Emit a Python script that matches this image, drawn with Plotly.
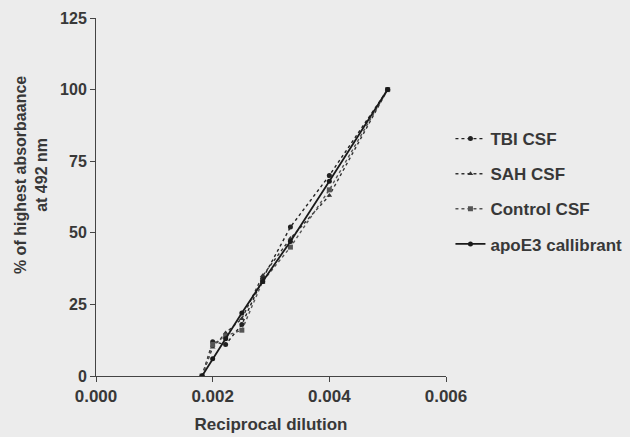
import plotly.graph_objects as go

# Reciprocal dilution (1/200 ... 1/550)
dilution = [0.001818, 0.002, 0.002222, 0.0025, 0.002857, 0.003333, 0.004, 0.005]

tbi_csf = [0, 12, 11, 18, 34, 52, 70, 100]
sah_csf = [0, 10, 15, 20, 35, 48, 63, 100]
control_csf = [0, 11, 14, 16, 33, 45, 65, 100]
apoe3_callibrant = [0, 6, 13, 22, 33, 47, 68, 100]

series = [
    ("TBI CSF", tbi_csf, "dot", "circle", "#222222", 1.4),
    ("SAH CSF", sah_csf, "dot", "triangle-up", "#333333", 1.4),
    ("Control CSF", control_csf, "dot", "square", "#555555", 1.4),
    ("apoE3 callibrant", apoe3_callibrant, "solid", "circle", "#1a1a1a", 1.8),
]

fig = go.Figure()
for i, (name, vals, dash, sym, col, lw) in enumerate(series):
    fig.add_trace(go.Scatter(
        x=dilution, y=vals, name=name, mode="lines+markers",
        line=dict(color=col, width=lw, dash=dash),
        marker=dict(symbol=sym, size=5, color=col),
        legendgroup=f"g{i}",
    ))

font_col = "#383838"
fam = "Liberation Sans, Arial, sans-serif"
fig.update_layout(
    width=630, height=437,
    margin=dict(l=96, r=184, t=18, b=61, autoexpand=False),
    paper_bgcolor="#ececec", plot_bgcolor="#ececec",
    font=dict(family=fam, size=16, color=font_col, weight="bold"),
    showlegend=True,
    legend=dict(
        xref="container", yref="container",
        x=0.715, xanchor="left", y=0.723, yanchor="top",
        bgcolor="rgba(0,0,0,0)", itemwidth=30,
        tracegroupgap=10,
        font=dict(size=17, color=font_col, family=fam, weight="bold"),
    ),
    xaxis=dict(
        range=[0, 0.006], tickvals=[0, 0.002, 0.004, 0.006],
        ticktext=["0.000", "0.002", "0.004", "0.006"],
        showgrid=False, zeroline=False, showline=True, linecolor="#444444", linewidth=1,
        ticks="outside", ticklen=5, tickcolor="#444444",
        title=dict(text="Reciprocal dilution", standoff=12,
                   font=dict(size=17, weight="bold")),
        tickfont=dict(size=17, weight="bold"),
    ),
    yaxis=dict(
        range=[0, 125], tickvals=[0, 25, 50, 75, 100, 125],
        showgrid=False, zeroline=False, showline=True, linecolor="#444444", linewidth=1,
        ticks="outside", ticklen=5, tickcolor="#444444",
        tickfont=dict(size=16, weight="bold"),
    ),
    annotations=[dict(
        text="% of highest absorbaance<br>at 492 nm",
        xref="paper", yref="paper", x=-0.186, y=0.561, xanchor="center", yanchor="middle",
        textangle=-90, showarrow=False,
        font=dict(size=16, color=font_col, family=fam, weight="bold"),
    )],
)

fig.write_html("out.html")
